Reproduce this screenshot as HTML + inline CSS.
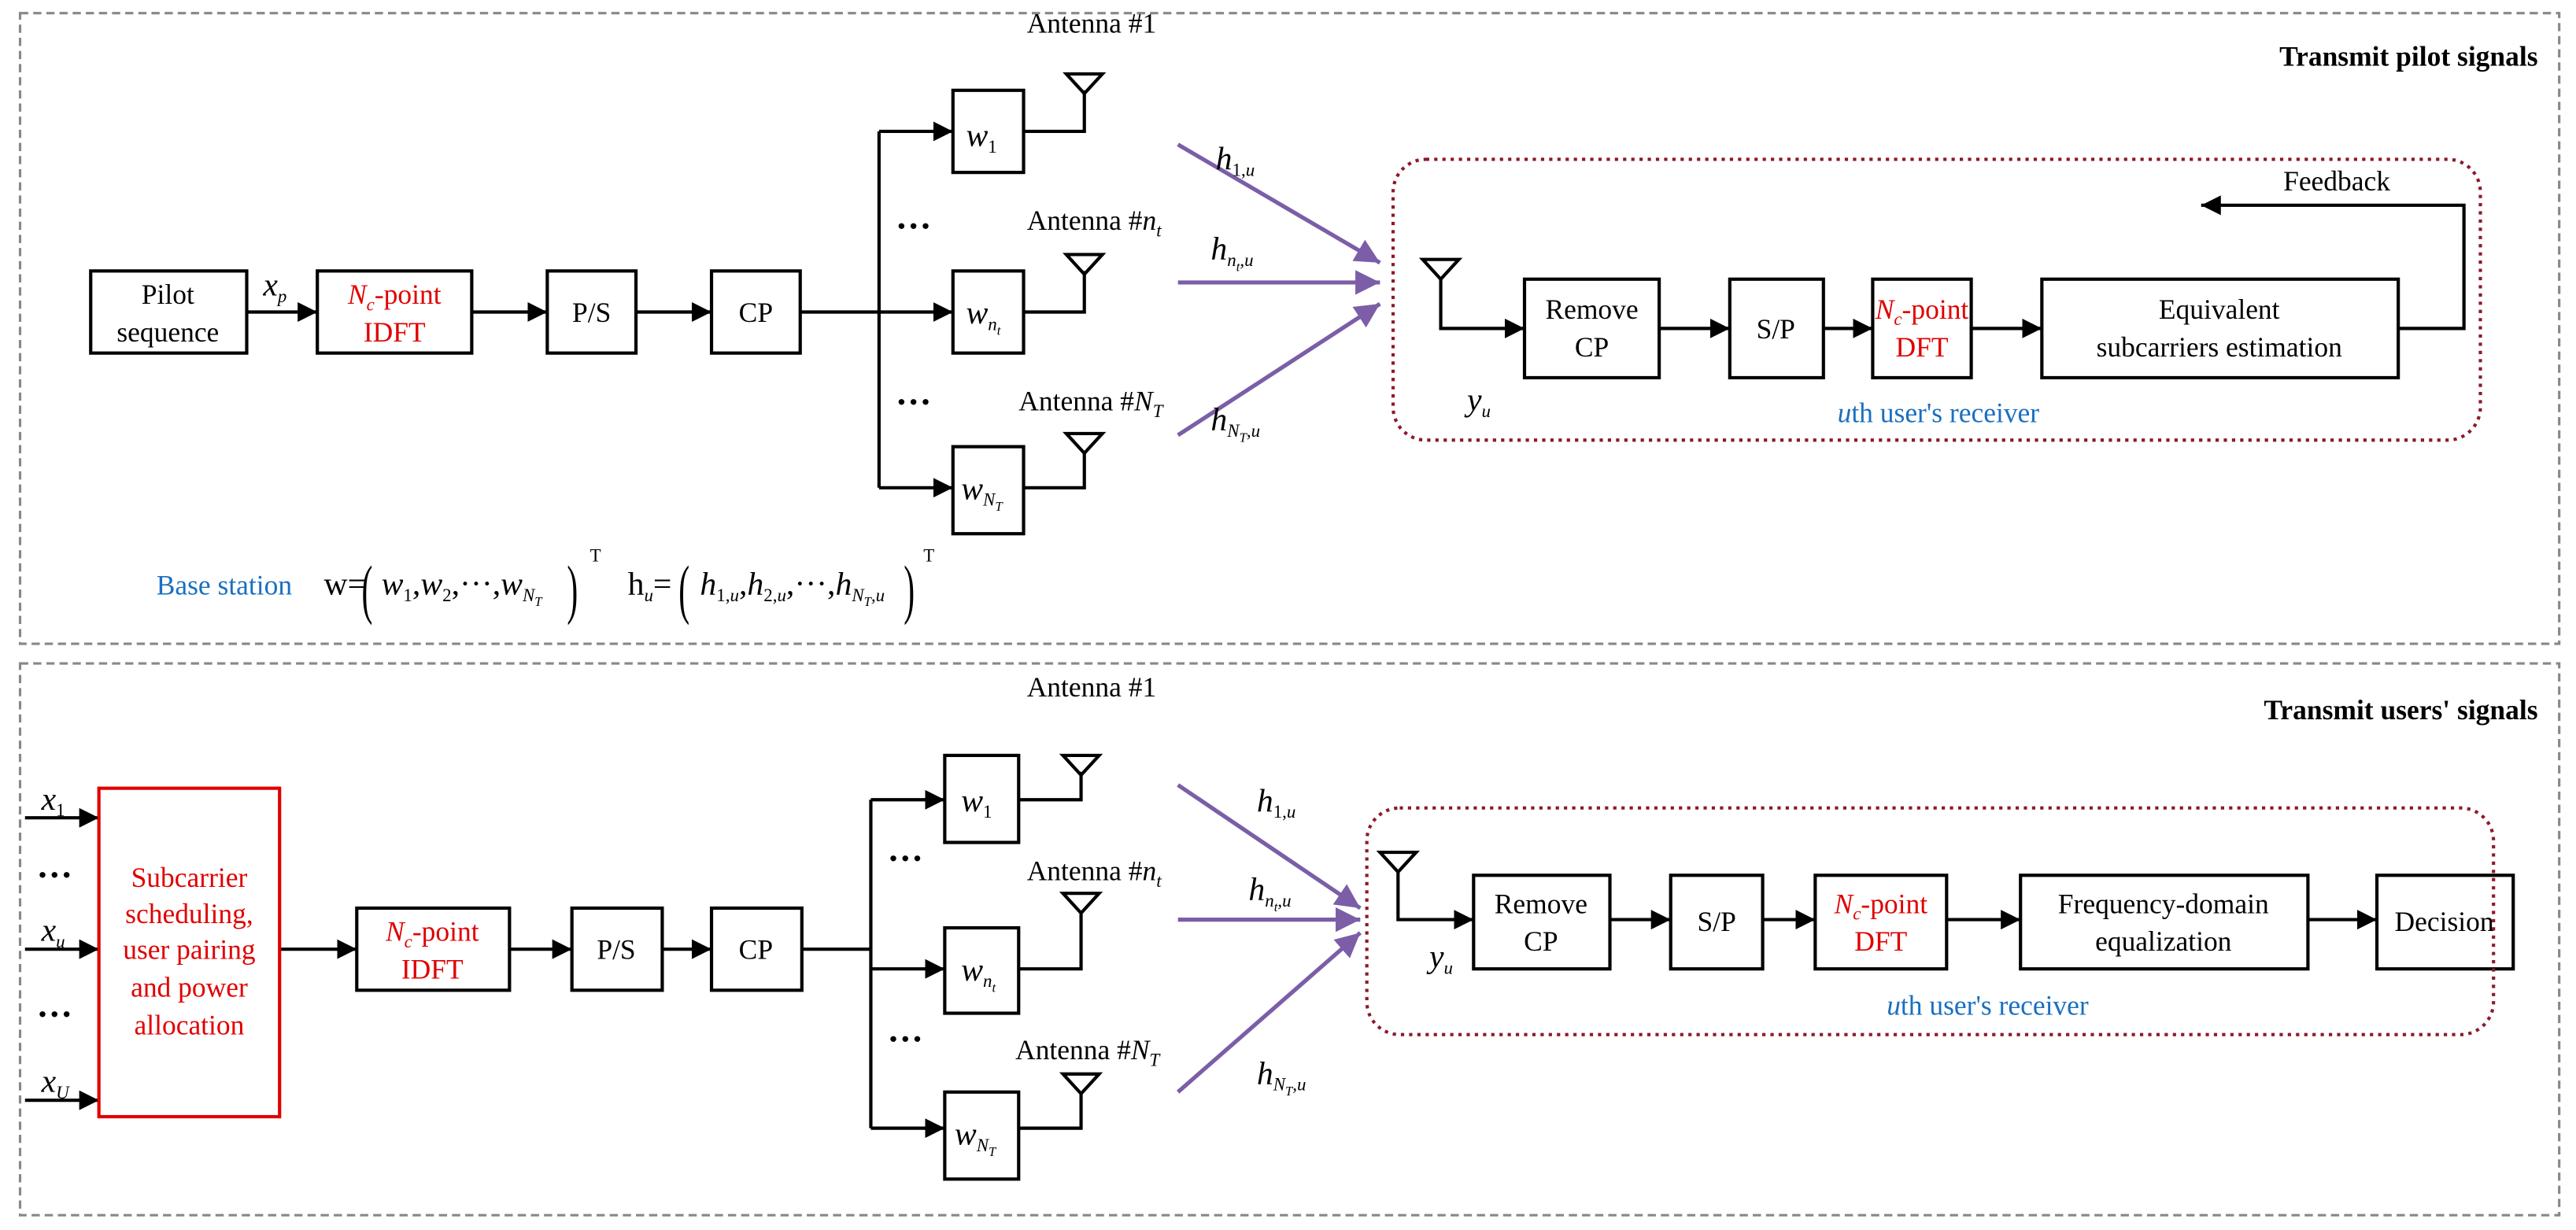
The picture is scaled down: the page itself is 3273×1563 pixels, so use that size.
<!DOCTYPE html>
<html><head><meta charset="utf-8"><style>
html,body{margin:0;padding:0;background:#fff}
svg{display:block}
text{font-family:"Liberation Serif",serif;font-size:17px;fill:#000}
.r{fill:#e00000}.b{fill:#1a6fc0}
.m{font-style:italic;font-size:20px}
.s{font-size:11px}
.t{font-size:8px}
.d{font-size:22px;font-weight:bold}
.pa{font-size:40px}
.e{font-size:20px}
</style></head><body>
<svg width="3273" height="1563" viewBox="0 0 1568 749" xmlns="http://www.w3.org/2000/svg">
<defs>
<marker id="a" viewBox="0 0 10 10" refX="10" refY="5" markerWidth="6" markerHeight="6" orient="auto"><path d="M0,0L10,5L0,10z" fill="#000"/></marker>
<marker id="p" viewBox="0 0 10 10" refX="10" refY="5" markerWidth="6" markerHeight="6" orient="auto"><path d="M0,0L10,5L0,10z" fill="#7b5ea7"/></marker>
</defs>
<g fill="none" stroke="#888" stroke-width="1.5" stroke-dasharray="5,3">
<rect x="12" y="8" width="1546" height="384"/>
<rect x="12" y="404" width="1546" height="336"/>
</g>
<text x="1545" y="40" text-anchor="end" font-weight="bold">Transmit pilot signals</text>
<text x="1545" y="438" text-anchor="end" font-weight="bold">Transmit users' signals</text>

<g fill="none" stroke="#000" stroke-width="2">
<rect x="55" y="165" width="95" height="50"/>
<rect x="193" y="165" width="94" height="50"/>
<rect x="333" y="165" width="54" height="50"/>
<rect x="433" y="165" width="54" height="50"/>
<rect x="580" y="55" width="43" height="50"/>
<rect x="580" y="165" width="43" height="50"/>
<rect x="580" y="272" width="43" height="53"/>
<rect x="928" y="170" width="82" height="60"/>
<rect x="1053" y="170" width="57" height="60"/>
<rect x="1140" y="170" width="60" height="60"/>
<rect x="1243" y="170" width="217" height="60"/>
<path d="M150,190H193" marker-end="url(#a)"/>
<path d="M287,190H333" marker-end="url(#a)"/>
<path d="M387,190H433" marker-end="url(#a)"/>
<path d="M487,190H535M535,80V297"/>
<path d="M535,80H580" marker-end="url(#a)"/>
<path d="M535,190H580" marker-end="url(#a)"/>
<path d="M535,297H580" marker-end="url(#a)"/>
<path d="M623,80H660V55M623,190H660V165M623,297H660V275"/>
<path d="M877,170V200H928" marker-end="url(#a)"/>
<path d="M1010,200H1053" marker-end="url(#a)"/>
<path d="M1110,200H1140" marker-end="url(#a)"/>
<path d="M1200,200H1243" marker-end="url(#a)"/>
<path d="M1460,200H1500V125H1340" marker-end="url(#a)"/>
<rect x="217" y="553" width="93" height="50"/>
<rect x="348" y="553" width="55" height="50"/>
<rect x="433" y="553" width="55" height="50"/>
<rect x="575" y="460" width="45" height="53"/>
<rect x="575" y="565" width="45" height="52"/>
<rect x="575" y="665" width="45" height="53"/>
<rect x="897" y="533" width="83" height="57"/>
<rect x="1017" y="533" width="56" height="57"/>
<rect x="1105" y="533" width="80" height="57"/>
<rect x="1230" y="533" width="175" height="57"/>
<rect x="1447" y="533" width="83" height="57"/>
<path d="M15,498H60" marker-end="url(#a)"/>
<path d="M15,578H60" marker-end="url(#a)"/>
<path d="M15,670H60" marker-end="url(#a)"/>
<path d="M170,578H217" marker-end="url(#a)"/>
<path d="M310,578H348" marker-end="url(#a)"/>
<path d="M403,578H433" marker-end="url(#a)"/>
<path d="M488,578H530M530,487V687"/>
<path d="M530,487H575" marker-end="url(#a)"/>
<path d="M530,590H575" marker-end="url(#a)"/>
<path d="M530,687H575" marker-end="url(#a)"/>
<path d="M620,487H658V470M620,590H658V555M620,687H658V665"/>
<path d="M851,530V560H897" marker-end="url(#a)"/>
<path d="M980,560H1017" marker-end="url(#a)"/>
<path d="M1073,560H1105" marker-end="url(#a)"/>
<path d="M1185,560H1230" marker-end="url(#a)"/>
<path d="M1405,560H1447" marker-end="url(#a)"/>
<path d="M649,45H671L660,57zM649,155H671L660,167zM649,264H671L660,276zM866,158H888L877,170z"/>
<path d="M647,460H669L658,472zM647,544H669L658,556zM647,654H669L658,666zM840,519H862L851,531z"/>
</g>
<rect x="60" y="480" width="110" height="200" fill="none" stroke="#e00000" stroke-width="2"/>
<g fill="none" stroke="#8b1a2b" stroke-width="2" stroke-dasharray="2,3">
<rect x="848" y="97" width="662" height="171" rx="20"/>
<rect x="832" y="492" width="686" height="138" rx="20"/>
</g>
<g stroke="#7b5ea7" stroke-width="2.5" fill="none">
<path d="M717,88L840,160" marker-end="url(#p)"/>
<path d="M717,172H840" marker-end="url(#p)"/>
<path d="M717,265L840,185" marker-end="url(#p)"/>
<path d="M717,478L828,553" marker-end="url(#p)"/>
<path d="M717,560H828" marker-end="url(#p)"/>
<path d="M717,665L828,568" marker-end="url(#p)"/>
</g>

<text x="102" y="185" text-anchor="middle">Pilot</text>
<text x="102" y="208" text-anchor="middle">sequence</text>
<text x="240" y="185" text-anchor="middle" class="r"><tspan font-style="italic">N</tspan><tspan class="s" font-style="italic" dy="4">c</tspan><tspan dy="-4">-point</tspan></text>
<text x="240" y="208" text-anchor="middle" class="r">IDFT</text>
<text x="360" y="196" text-anchor="middle">P/S</text>
<text x="460" y="196" text-anchor="middle">CP</text>
<text x="160" y="180" class="m">x<tspan class="s" dy="4">p</tspan></text>
<text x="545" y="145" class="d">···</text>
<text x="545" y="252" class="d">···</text>
<text x="588" y="89" class="m">w<tspan class="s" dy="4" font-style="normal">1</tspan></text>
<text x="588" y="197" class="m">w<tspan class="s" dy="4">n</tspan><tspan class="t" dy="3">t</tspan></text>
<text x="585" y="304" class="m">w<tspan class="s" dy="4">N</tspan><tspan class="t" dy="3">T</tspan></text>
<text x="625" y="20">Antenna #1</text>
<text x="625" y="140">Antenna #<tspan font-style="italic">n<tspan class="s" dy="4">t</tspan></tspan></text>
<text x="620" y="250">Antenna #<tspan font-style="italic">N<tspan class="s" dy="4">T</tspan></tspan></text>
<text x="740" y="103" class="m">h<tspan class="s" dy="4" font-style="normal">1,</tspan><tspan class="s" font-style="italic">u</tspan></text>
<text x="737" y="158" class="m">h<tspan class="s" dy="4">n</tspan><tspan class="t" dy="3">t</tspan><tspan class="s" dy="-3">,u</tspan></text>
<text x="737" y="262" class="m">h<tspan class="s" dy="4">N</tspan><tspan class="t" dy="3">T</tspan><tspan class="s" dy="-3">,u</tspan></text>
<text x="893" y="250" class="m">y<tspan class="s" dy="4">u</tspan></text>
<text x="969" y="194" text-anchor="middle">Remove</text>
<text x="969" y="217" text-anchor="middle">CP</text>
<text x="1081" y="206" text-anchor="middle">S/P</text>
<text x="1170" y="194" text-anchor="middle" class="r"><tspan font-style="italic">N</tspan><tspan class="s" font-style="italic" dy="4">c</tspan><tspan dy="-4">-point</tspan></text>
<text x="1170" y="217" text-anchor="middle" class="r">DFT</text>
<text x="1351" y="194" text-anchor="middle">Equivalent</text>
<text x="1351" y="217" text-anchor="middle">subcarriers estimation</text>
<text x="1390" y="116">Feedback</text>
<text x="1180" y="257" text-anchor="middle" class="b"><tspan font-style="italic">u</tspan>th user's receiver</text>

<text x="95" y="362" class="b">Base station</text>
<text x="197" y="362" class="e">w=</text>
<text x="220" y="372" class="pa" transform="translate(220,0) scale(0.5,1) translate(-220,0)">(</text>
<text x="232" y="362" class="m">w<tspan class="s" dy="4" font-style="normal">1</tspan><tspan dy="-4" font-style="normal">,</tspan>w<tspan class="s" dy="4" font-style="normal">2</tspan><tspan dy="-4" font-style="normal">,···,</tspan>w<tspan class="s" dy="4">N</tspan><tspan class="t" dy="3">T</tspan></text>
<text x="345" y="372" class="pa" transform="translate(345,0) scale(0.5,1) translate(-345,0)">)</text>
<text x="359" y="342" class="s">T</text>
<text x="382" y="362" class="e">h<tspan class="s" dy="4" font-style="italic">u</tspan><tspan dy="-4">=</tspan></text>
<text x="413" y="372" class="pa" transform="translate(413,0) scale(0.5,1) translate(-413,0)">(</text>
<text x="426" y="362" class="m">h<tspan class="s" dy="4" font-style="normal">1,</tspan><tspan class="s">u</tspan><tspan dy="-4" font-style="normal">,</tspan>h<tspan class="s" dy="4" font-style="normal">2,</tspan><tspan class="s">u</tspan><tspan dy="-4" font-style="normal">,···,</tspan>h<tspan class="s" dy="4">N</tspan><tspan class="t" dy="3">T</tspan><tspan class="s" dy="-3">,u</tspan></text>
<text x="550" y="372" class="pa" transform="translate(550,0) scale(0.5,1) translate(-550,0)">)</text>
<text x="562" y="342" class="s">T</text>

<text x="25" y="493" class="m">x<tspan class="s" dy="4" font-style="normal">1</tspan></text>
<text x="25" y="573" class="m">x<tspan class="s" dy="4">u</tspan></text>
<text x="25" y="665" class="m">x<tspan class="s" dy="4">U</tspan></text>
<text x="22" y="540" class="d">···</text>
<text x="22" y="625" class="d">···</text>
<text x="115" y="540" text-anchor="middle" class="r">Subcarrier</text>
<text x="115" y="562" text-anchor="middle" class="r">scheduling,</text>
<text x="115" y="584" text-anchor="middle" class="r">user pairing</text>
<text x="115" y="607" text-anchor="middle" class="r">and power</text>
<text x="115" y="630" text-anchor="middle" class="r">allocation</text>
<text x="263" y="573" text-anchor="middle" class="r"><tspan font-style="italic">N</tspan><tspan class="s" font-style="italic" dy="4">c</tspan><tspan dy="-4">-point</tspan></text>
<text x="263" y="596" text-anchor="middle" class="r">IDFT</text>
<text x="375" y="584" text-anchor="middle">P/S</text>
<text x="460" y="584" text-anchor="middle">CP</text>
<text x="540" y="530" class="d">···</text>
<text x="540" y="640" class="d">···</text>
<text x="585" y="494" class="m">w<tspan class="s" dy="4" font-style="normal">1</tspan></text>
<text x="585" y="597" class="m">w<tspan class="s" dy="4">n</tspan><tspan class="t" dy="3">t</tspan></text>
<text x="581" y="697" class="m">w<tspan class="s" dy="4">N</tspan><tspan class="t" dy="3">T</tspan></text>
<text x="625" y="424">Antenna #1</text>
<text x="625" y="536">Antenna #<tspan font-style="italic">n<tspan class="s" dy="4">t</tspan></tspan></text>
<text x="618" y="645">Antenna #<tspan font-style="italic">N<tspan class="s" dy="4">T</tspan></tspan></text>
<text x="765" y="494" class="m">h<tspan class="s" dy="4" font-style="normal">1,</tspan><tspan class="s">u</tspan></text>
<text x="760" y="548" class="m">h<tspan class="s" dy="4">n</tspan><tspan class="t" dy="3">t</tspan><tspan class="s" dy="-3">,u</tspan></text>
<text x="765" y="660" class="m">h<tspan class="s" dy="4">N</tspan><tspan class="t" dy="3">T</tspan><tspan class="s" dy="-3">,u</tspan></text>
<text x="870" y="589" class="m">y<tspan class="s" dy="4">u</tspan></text>
<text x="938" y="556" text-anchor="middle">Remove</text>
<text x="938" y="579" text-anchor="middle">CP</text>
<text x="1045" y="567" text-anchor="middle">S/P</text>
<text x="1145" y="556" text-anchor="middle" class="r"><tspan font-style="italic">N</tspan><tspan class="s" font-style="italic" dy="4">c</tspan><tspan dy="-4">-point</tspan></text>
<text x="1145" y="579" text-anchor="middle" class="r">DFT</text>
<text x="1317" y="556" text-anchor="middle">Frequency-domain</text>
<text x="1317" y="579" text-anchor="middle">equalization</text>
<text x="1488" y="567" text-anchor="middle">Decision</text>
<text x="1210" y="618" text-anchor="middle" class="b"><tspan font-style="italic">u</tspan>th user's receiver</text>
</svg>
</body></html>
